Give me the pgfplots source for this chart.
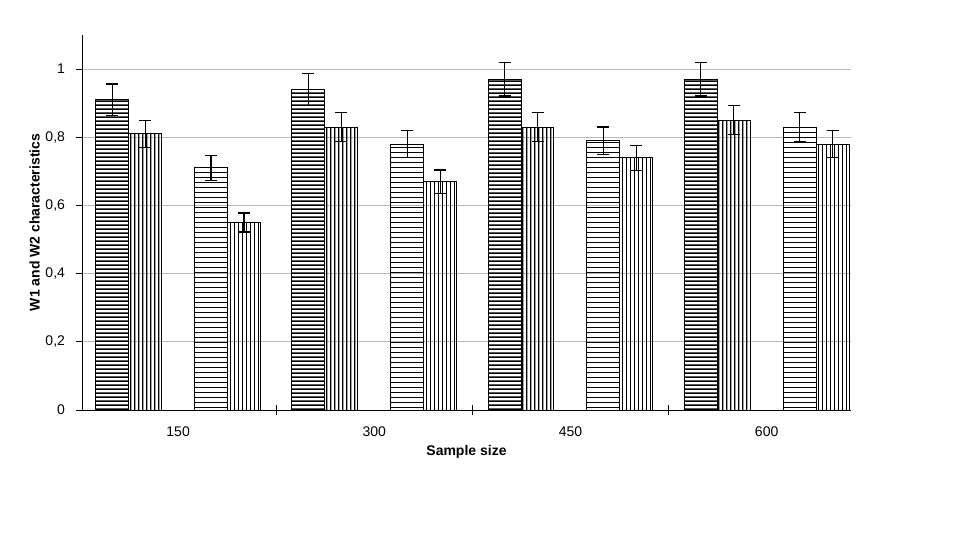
\documentclass[border=0pt]{standalone}
\usepackage{fontspec}
\setmainfont{Liberation Sans}
\usepackage{pgfplots}
\pgfplotsset{compat=1.18}
\usetikzlibrary{patterns}

% hatch patterns like the old spreadsheet fills (lines overlap the tile edges so no seams show)
\pgfdeclarepatternformonly{hthick}{\pgfpointorigin}{\pgfqpoint{10pt}{2.15pt}}{\pgfqpoint{10pt}{2.15pt}}%
  {\pgfpathrectangle{\pgfqpoint{-1pt}{0pt}}{\pgfqpoint{12pt}{0.9pt}}\pgfusepath{fill}}
\pgfdeclarepatternformonly{vthick}{\pgfpointorigin}{\pgfqpoint{2.1pt}{10pt}}{\pgfqpoint{2.1pt}{10pt}}%
  {\pgfpathrectangle{\pgfqpoint{0pt}{-1pt}}{\pgfqpoint{0.8pt}{12pt}}\pgfusepath{fill}}
\pgfdeclarepatternformonly{hthin}{\pgfpointorigin}{\pgfqpoint{10pt}{2.7pt}}{\pgfqpoint{10pt}{2.7pt}}%
  {\pgfpathrectangle{\pgfqpoint{-1pt}{0pt}}{\pgfqpoint{12pt}{0.5pt}}\pgfusepath{fill}}
\pgfdeclarepatternformonly{vthin}{\pgfpointorigin}{\pgfqpoint{2.1pt}{10pt}}{\pgfqpoint{2.1pt}{10pt}}%
  {\pgfpathrectangle{\pgfqpoint{0pt}{-1pt}}{\pgfqpoint{0.5pt}{12pt}}\pgfusepath{fill}}

\begin{document}
\begin{tikzpicture}
\useasboundingbox (-41pt,-66pt) rectangle (446.5pt,205pt);
\begin{axis}[
    at={(0,0)}, anchor=south west,
    scale only axis,
    width=384.5pt, height=187.5pt,
    ybar,
    bar width=0.168,
    xmin=-0.49, xmax=3.43,
    ymin=0, ymax=1.1,
    xtick={0,1,2,3},
    xticklabels={150,300,450,600},
    major x tick style={draw=none},
    extra x ticks={0.5,1.5,2.5},
    extra x tick labels={},
    extra x tick style={tick align=center, major tick length=5pt,
      major x tick style={draw=black, line width=0.5pt}},
    ytick={0,0.2,0.4,0.6,0.8,1},
    major tick length=3pt,
    tick align=outside,
    axis x line*=bottom,
    axis y line*=left,
    axis line style={black, line width=0.5pt},
    every tick/.style={black, line width=0.5pt},
    ymajorgrids,
    grid style={gray!55, line width=0.5pt},
    /pgf/number format/use comma,
    /pgf/number format/assume math mode=true,
    tick label style={font=\fontsize{7}{8}\selectfont, black},
    xticklabel style={yshift=-2pt},
    yticklabel style={xshift=-2pt},
    label style={font=\bfseries\fontsize{7}{8}\selectfont},
    xlabel={Sample size},
    ylabel={W1 and W2 characteristics},
    xlabel style={yshift=8pt},
    ylabel style={yshift=-4pt},
    every axis plot/.append style={draw=black, line width=0.5pt,
      error bars/y dir=both, error bars/y explicit,
      error bars/error mark=-,
      error bars/error bar style={black, line width=0.6pt},
      error bars/error mark options={rotate=90, black, line width=0.6pt, mark size=3pt}},
]
\addplot[bar shift=-0.336, pattern=hthick] coordinates {
  (0,0.91) +- (0,0.046)
  (1,0.94) +- (0,0.047)
  (2,0.97) +- (0,0.049)
  (3,0.97) +- (0,0.049)
};
\addplot[bar shift=-0.168, pattern=vthick] coordinates {
  (0,0.81) +- (0,0.040)
  (1,0.83) +- (0,0.042)
  (2,0.83) +- (0,0.042)
  (3,0.85) +- (0,0.043)
};
\addplot[bar shift=0.168, pattern=hthin] coordinates {
  (0,0.71) +- (0,0.036)
  (1,0.78) +- (0,0.039)
  (2,0.79) +- (0,0.040)
  (3,0.83) +- (0,0.042)
};
\addplot[bar shift=0.336, pattern=vthin] coordinates {
  (0,0.55) +- (0,0.028)
  (1,0.67) +- (0,0.034)
  (2,0.74) +- (0,0.037)
  (3,0.78) +- (0,0.039)
};
\end{axis}
\end{tikzpicture}
\end{document}
